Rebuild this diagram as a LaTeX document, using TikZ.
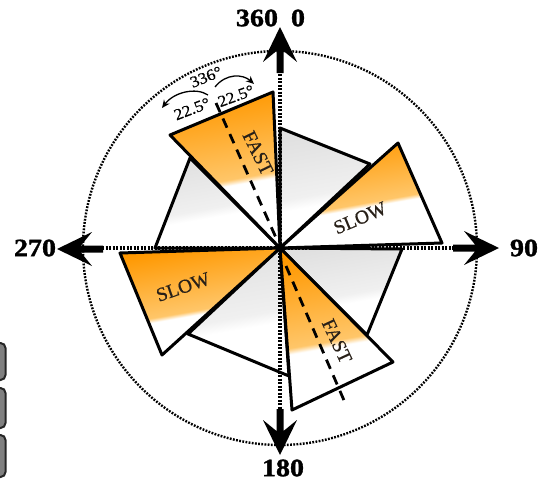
\documentclass[tikz,border=0pt]{standalone}
\usepackage{fontspec}
\setmainfont{Liberation Serif}
\newfontfamily\numfont[FakeStretch=1.12, FakeBold=1.3]{Liberation Serif Bold}
\newfontfamily\angfont[FakeStretch=1.08, FakeBold=0.6]{Liberation Serif}
\newfontfamily\wordfont[FakeBold=0.6]{Liberation Serif}
\usetikzlibrary{arrows.meta}
\definecolor{orA}{RGB}{255,152,0}
\definecolor{orB}{RGB}{255,198,105}
\definecolor{grA}{RGB}{224,224,224}
\definecolor{grB}{RGB}{240,240,240}
\definecolor{txt}{RGB}{40,32,24}
\pgfdeclareverticalshading{orshade}{100bp}{color(0bp)=(white); color(44.5bp)=(white); color(46.5bp)=(orB); color(75bp)=(orA); color(100bp)=(orA)}
\pgfdeclareverticalshading{grshade}{100bp}{color(0bp)=(white); color(43bp)=(white); color(48bp)=(grB); color(75bp)=(grA); color(100bp)=(grA)}
\tikzset{
  axhead/.pic={\fill (0,0) -- (-35,-17) -- (-24,-3.5) -- (-46,-3.5) -- (-46,3.5) -- (-24,3.5) -- (-35,17) -- cycle;},
  wedge/.style={draw=black, line width=3pt, line join=round},
  orwedge/.style={wedge, shade, shading=orshade, shading angle=10},
  grwedge/.style={wedge, shade, shading=grshade, shading angle=10},
  axisline/.style={line width=3.4pt, dash pattern=on 2.2pt off 1.3pt},
  ringline/.style={line width=2.4pt, dash pattern=on 1.8pt off 1.4pt},
  bisect/.style={line width=2.8pt, dash pattern=on 10pt off 7pt},
  bignum/.style={font=\numfont\fontsize{25}{25}\selectfont, inner sep=0pt},
  wordlbl/.style={font=\wordfont\fontsize{19.5}{19.5}\selectfont, text=txt, inner sep=0pt},
  anglbl/.style={font=\angfont\fontsize{16}{16}\selectfont, inner sep=0pt},
  smallarrow/.style={line width=1.3pt, -{Stealth[length=8pt,width=7pt]}},
  sidebox/.style={draw=black!85, line width=2pt, fill=black!50, rounded corners=5pt}
}
\begin{document}
\begin{tikzpicture}[x=1pt,y=-1pt]
\useasboundingbox (0,0) rectangle (551,482);
% side boxes
\draw[sidebox] (-20,343) rectangle (5.5,380);
\draw[sidebox] (-20,388) rectangle (5.5,428);
\draw[sidebox] (-20,435) rectangle (5.5,477);
% centre
\coordinate (C) at (280,248);
% ring
\draw[ringline] (C) circle[radius=197];
% gray wedges
\draw[grwedge] (C) -- (280,128) -- (370,164) -- cycle;
\draw[grwedge] (C) -- (402,249) -- (367,335) -- cycle;
\draw[grwedge] (C) -- (289,376) -- (188,334) -- cycle;
\draw[grwedge] (C) -- (155,248) -- (190,158) -- cycle;
% axes
\draw[axisline] (280,60) -- (280,428);
\draw[axisline] (88,248) -- (470,248);
% orange wedges
\draw[orwedge] (C) -- (170,135) -- (273,92) -- cycle;
\draw[orwedge] (C) -- (398,143) -- (442,243) -- cycle;
\draw[orwedge] (C) -- (120,253) -- (162,355) -- cycle;
\draw[orwedge] (C) -- (292,410) -- (393,362) -- cycle;
% bisectors
\coordinate (b1) at (216,103);
\coordinate (b1e) at (277,240);
\coordinate (b2) at (286,266);
\coordinate (b2e) at (346,405);
\draw[bisect] (b1) -- (b1e);
\draw[bisect] (b2) -- (b2e);
% arrow heads
\path (280,27) pic[rotate=90] {axhead};
\path (280,455) pic[rotate=-90] {axhead};
\path (57,249) pic[rotate=180] {axhead};
\path (499,248) pic {axhead};
% labels
\node[bignum] (n360) at (257,18) {360};
\node[bignum] (n0) at (298,18) {0};
\node[bignum] (n270) at (35,248) {270};
\node[bignum] (n90) at (524,248) {90};
\node[bignum] (n180) at (283,468) {180};
\node[wordlbl, rotate=-64] (f1) at (258,153) {FAST};
\node[wordlbl, rotate=-65] (f2) at (337,341) {FAST};
\node[wordlbl, rotate=23] (s1) at (360,218) {SLOW};
\node[wordlbl, rotate=19] (s2) at (183,287) {SLOW};
% angle annotations
\node[anglbl, rotate=22] (a336) at (206,77) {336°};
\node[anglbl, rotate=21] (a1) at (192,109) {22.5°};
\node[anglbl, rotate=20] (a2) at (236,96) {22.5°};
\draw[smallarrow] (215,87) .. controls (226,73) and (243,74) .. (254,84);
\draw[smallarrow] (208,95) .. controls (196,87) and (174,92) .. (162,108);
\end{tikzpicture}
\end{document}
